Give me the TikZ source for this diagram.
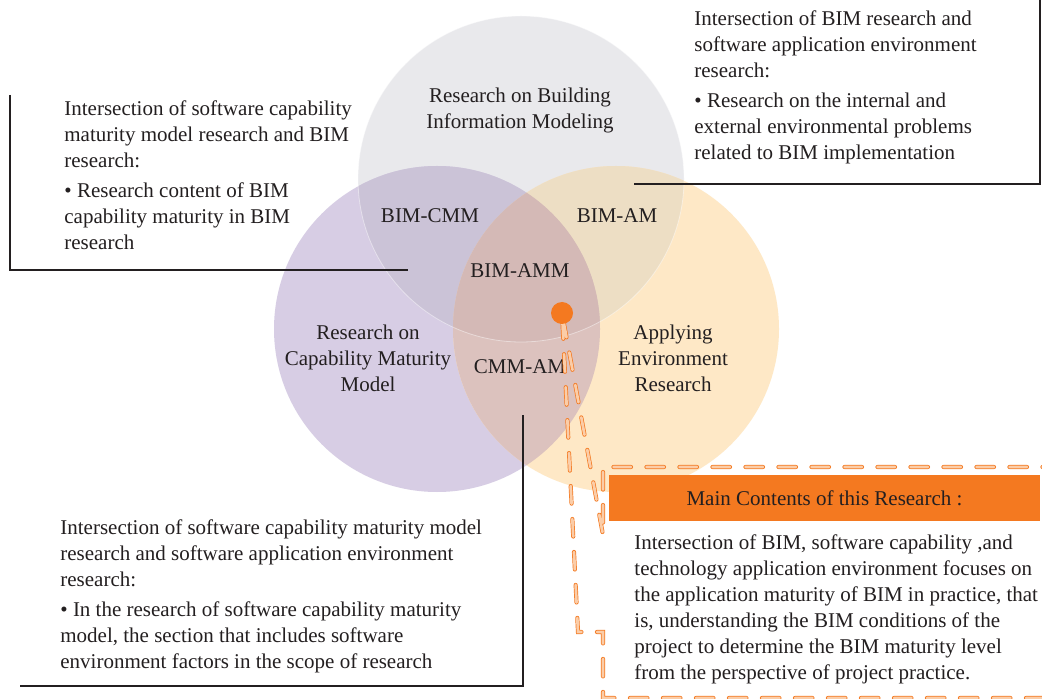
\documentclass[tikz,border=0pt]{standalone}
\usepackage{fontspec}
\setmainfont{Liberation Serif}
\definecolor{ink}{HTML}{231F20}
\definecolor{bimfill}{HTML}{E9E9EC}
\definecolor{cmmfill}{HTML}{D7CDE4}
\definecolor{envfill}{HTML}{FEE8C6}
\definecolor{bimcmmfill}{HTML}{CBC3D7}
\definecolor{bimenvfill}{HTML}{EDDEC4}
\definecolor{cmmenvfill}{HTML}{DCC2BE}
\definecolor{corefill}{HTML}{D4B9B6}
\definecolor{accent}{HTML}{F47920}
\definecolor{accentlight}{HTML}{FBCDA8}
\begin{document}
\begin{tikzpicture}[x=0.5pt,y=-0.5pt,
  txt/.style={font=\fontsize{10.5}{13}\selectfont, text=ink, inner sep=0pt, align=left, anchor=north west},
  lbl/.style={font=\fontsize{10.5}{13}\selectfont, text=ink, inner sep=0pt, align=center},
  rule/.style={draw=ink, line width=1pt},
  callout/.style={draw=accent, line width=0.35pt, double=accentlight, double distance=1.35pt,
                  line cap=round, dash pattern=on 8.8pt off 7.7pt},
  headbox/.style={fill=accent, inner sep=0pt, minimum width=215.5pt, minimum height=23pt,
                  font=\fontsize{10.5}{13}\selectfont, text=ink},
  pindot/.style={circle, fill=accent, minimum size=11pt, inner sep=0pt}]

\fill[white] (0,0) rectangle (1042,699);
\useasboundingbox (0,0) rectangle (1042,699);
\clip (0,0) rectangle (1042,699);

% circle centres
\coordinate (G) at (521,179);
\coordinate (P) at (437,329);
\coordinate (O) at (616,329);
\def\rad{81.5pt}

% the three research fields
\fill[bimfill] (G) circle[radius=\rad];
\fill[cmmfill] (P) circle[radius=\rad];
\fill[envfill] (O) circle[radius=\rad];
% pairwise overlaps
\begin{scope}
  \clip (G) circle[radius=\rad];
  \fill[bimcmmfill] (P) circle[radius=\rad];
  \fill[bimenvfill] (O) circle[radius=\rad];
\end{scope}
\begin{scope}
  \clip (P) circle[radius=\rad];
  \fill[cmmenvfill] (O) circle[radius=\rad];
\end{scope}
% common core
\begin{scope}
  \clip (G) circle[radius=\rad];
  \clip (P) circle[radius=\rad];
  \fill[corefill] (O) circle[radius=\rad];
\end{scope}
\draw[white, opacity=0.45, line width=0.4pt] (G) circle[radius=\rad];

% labels inside the circles
\node[lbl] (bim) at (520,110) {Research on Building\\Information Modeling};
\node[lbl] (bimcmm) at (430,216) {BIM-CMM};
\node[lbl] (bimam) at (617,216) {BIM-AM};
\node[lbl] (bimamm) at (520,271) {BIM-AMM};
\node[lbl] (cmm) at (368,358) {Research on\\Capability Maturity\\Model};
\node[lbl] (cmmam) at (520,367) {CMM-AM};
\node[lbl] (env) at (673,358) {Applying\\Environment\\Research};

% annotation texts
\node[txt] (noteBC) at (64,100) {Intersection of software capability\\maturity model research and BIM\\research:\\[2pt]\textbullet\ Research content of BIM\\capability maturity in BIM\\research};
\node[txt] (noteBA) at (694,10) {Intersection of BIM research and\\software application environment\\research:\\[2pt]\textbullet\ Research on the internal and\\external environmental problems\\related to BIM implementation};
\node[txt] (noteCA) at (60,519) {Intersection of software capability maturity model\\research and software application environment\\research:\\[2pt]\textbullet\ In the research of software capability maturity\\model, the section that includes software\\environment factors in the scope of research};

% bracket rules
\coordinate (bcTop) at (10,95);
\coordinate (bcEnd) at (408,270);
\draw[rule] (bcTop) |- (bcEnd);
\coordinate (baTop) at (1040,0);
\coordinate (baEnd) at (634,184);
\draw[rule] (baTop) |- (baEnd);
\coordinate (caTop) at (523,415);
\coordinate (caEnd) at (20,686);
\draw[rule] (caTop) |- (caEnd);

% callout frame pointing at the core
\coordinate (pin) at (562,313);
\coordinate (frTR) at (1060,467);
\coordinate (frTL) at (603,467);
\coordinate (frA) at (603,535);
\coordinate (frB) at (578,632);
\coordinate (frC) at (603,632);
\coordinate (frBL) at (603,698);
\coordinate (frBR) at (1060,698);
\draw[callout] (frTR) -- (frTL) -- (frA) -- (pin) -- (frB) -- (frC) -- (frBL) -- (frBR);
\node[pindot] (dot) at (pin) {};

\node[headbox] (head) at (824.5,498) {Main Contents of this Research :};
\node[txt] (main) at (634,534) {Intersection of BIM, software capability ,and\\technology application environment focuses on\\the application maturity of BIM in practice, that\\is, understanding the BIM conditions of the\\project to determine the BIM maturity level\\from the perspective of project practice.};
\end{tikzpicture}
\end{document}
